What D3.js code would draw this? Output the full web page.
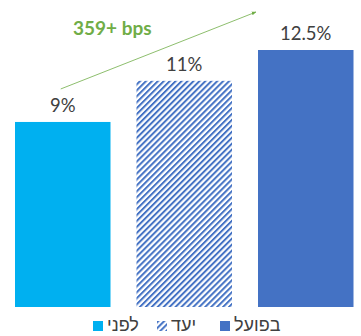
<!DOCTYPE html>
<html>
<head>
<meta charset="utf-8">
<script src="https://cdn.jsdelivr.net/npm/d3@7"></script>
<style>
  body { margin: 0; background: #fff; }
  text { font-family: Lato, "Open Sans", "DejaVu Sans", sans-serif; }
  text.heb { font-family: "Liberation Sans", "DejaVu Sans", sans-serif; }
</style>
</head>
<body>
<div id="chart"></div>
<script>
var width = 361, height = 336;

// data
var categories = ["לפני", "יעד", "בפועל"];
var values = [9, 11, 12.5];
var valueLabels = ["9%", "11%", "12.5%"];
var annotation = "359+ bps";

var cyan = "#00B0F0", blue = "#4472C4", green = "#70AD47";

var svg = d3.select("#chart").append("svg")
  .attr("width", width)
  .attr("height", height);

// hatch pattern for the target bar
var defs = svg.append("defs");
var pat = defs.append("pattern")
  .attr("id", "hatch")
  .attr("patternUnits", "userSpaceOnUse")
  .attr("width", 4.2)
  .attr("height", 4.2)
  .attr("patternTransform", "rotate(45)");
pat.append("rect").attr("width", 4.2).attr("height", 4.2).attr("fill", "#fff");
pat.append("rect").attr("x", 0).attr("width", 2).attr("height", 4.2).attr("fill", blue);

var fills = [cyan, "url(#hatch)", blue];

var x = d3.scaleBand()
  .domain(d3.range(values.length))
  .range([15, 353.5])
  .paddingInner(0.214)
  .paddingOuter(0);

var y = d3.scaleLinear()
  .domain([0, 12.5])
  .range([307, 50]);

svg.selectAll("rect.bar")
  .data(values)
  .enter()
  .append("rect")
  .attr("class", "bar")
  .attr("x", (d, i) => x(i))
  .attr("width", x.bandwidth())
  .attr("y", d => y(d))
  .attr("height", d => y(0) - y(d))
  .attr("fill", (d, i) => fills[i]);

svg.selectAll("text.val")
  .data(values)
  .enter()
  .append("text")
  .attr("class", "val")
  .attr("x", (d, i) => x(i) + x.bandwidth() / 2)
  .attr("y", d => y(d) - 10)
  .attr("text-anchor", "middle")
  .attr("font-size", 18.5)
  .attr("fill", "#404040")
  .text((d, i) => valueLabels[i]);

// growth arrow
defs.append("marker")
  .attr("id", "arrow")
  .attr("viewBox", "0 0 10 10")
  .attr("refX", 9).attr("refY", 5)
  .attr("markerWidth", 6).attr("markerHeight", 6)
  .attr("orient", "auto")
  .append("path")
  .attr("d", "M0,1 L10,5 L0,9 z")
  .attr("fill", green);

svg.append("line")
  .attr("x1", x(0) + x.bandwidth() / 2 - 2)
  .attr("y1", y(values[0]) - 33)
  .attr("x2", x(2) - 2)
  .attr("y2", 12)
  .attr("stroke", green)
  .attr("stroke-width", 0.8)
  .attr("marker-end", "url(#arrow)");

svg.append("text")
  .attr("x", 73)
  .attr("y", 35)
  .attr("font-size", 19)
  .attr("font-weight", "bold")
  .attr("fill", green)
  .text(annotation);

// legend
var legendX = [93, 157, 220];
var lg = svg.selectAll("g.leg")
  .data(categories)
  .enter()
  .append("g")
  .attr("class", "leg")
  .attr("transform", (d, i) => "translate(" + legendX[i] + ",321)");

lg.append("rect")
  .attr("width", 10)
  .attr("height", 10)
  .attr("fill", (d, i) => fills[i]);

lg.append("text")
  .attr("class", "heb")
  .attr("x", 14)
  .attr("y", 10)
  .attr("font-size", 18)
  .attr("fill", "#404040")
  .text(d => d);
</script>
</body>
</html>
